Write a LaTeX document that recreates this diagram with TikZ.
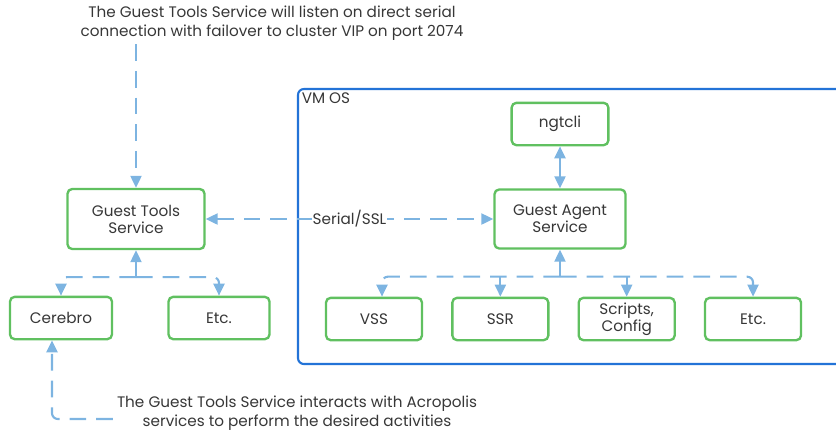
\documentclass[tikz,border=0pt]{standalone}
\usepackage{fontspec}
\setmainfont{Poppins}
\usepackage{tikz}
\usetikzlibrary{arrows.meta, positioning, calc}
\definecolor{boxgreen}{RGB}{96,192,96}
\definecolor{flowblue}{RGB}{125,180,225}
\definecolor{vmblue}{RGB}{35,115,215}
\definecolor{textgray}{RGB}{55,55,55}
\tikzset{
  svcbox/.style={rectangle,rounded corners=4pt,draw=boxgreen,line width=2pt,align=center,fill=white,text=textgray,font=\fontsize{13}{14.5}\selectfont},
  smallbox/.style={svcbox,minimum width=2.88cm,minimum height=1.27cm},
  vmbox/.style={rectangle,rounded corners=5pt,draw=vmblue,line width=1.8pt},
  note/.style={align=center,text=textgray,font=\fontsize{13}{16}\selectfont},
  flowarr/.style={-{Triangle[length=0.36cm,width=0.33cm]},line width=1.8pt,color=flowblue,dash pattern=on 0.5cm off 0.3cm},
  dflowarr/.style={flowarr,{Triangle[length=0.36cm,width=0.33cm]}-{Triangle[length=0.36cm,width=0.33cm]}}
}

\begin{document}
\begin{tikzpicture}[x=0.03cm,y=-0.03cm,node distance=0.84cm]
  \useasboundingbox (0,0) rectangle (836,434);

  %% VM OS frame, running off the right edge
  \coordinate (vmfar) at (900,364);
  \draw[vmbox,rounded corners=5pt] (298,89) rectangle (vmfar);
  \node[note,anchor=north west,inner sep=3pt] (vmlabel) at (298,89) {VM OS};

  %% Guest Tools side
  \node[svcbox,minimum width=4.11cm,minimum height=1.8cm] (gts) at (136,219) {Guest Tools\\Service};
  \node[smallbox,minimum width=3.06cm] (cerebro) at (61,318) {Cerebro};
  \node[smallbox,minimum width=3.03cm] (etcl) at (219,318) {Etc.};

  %% Guest Agent side
  \node[svcbox,minimum width=3.93cm,minimum height=1.77cm] (gas) at (560,219) {Guest Agent\\Service};
  \node[smallbox,minimum width=2.9cm] (ngtcli) at (560,124) {ngtcli};
  \node[smallbox] (vss) at (374,319) {VSS};
  \node[smallbox,right=of vss] (ssr) {SSR};
  \node[smallbox,right=of ssr] (scripts) {Scripts,\\Config};
  \node[smallbox,right=of scripts] (etcr) {Etc.};

  %% Notes
  \node[note] (topnote) at (272,23) {The Guest Tools Service will listen on direct serial\\connection with failover to cluster VIP on port 2074};
  \node[note] (botnote) at (297,413) {The Guest Tools Service interacts with Acropolis\\services to perform the desired activities};

  %% Connectors
  \coordinate (gtsjoin) at ([yshift=-0.81cm]gts.south);
  \coordinate (gasjoin) at ([yshift=-0.81cm]gas.south);

  \draw[flowarr] (topnote.south -| gts.north) -- (gts.north);
  \draw[dflowarr] (gts.east) -- node[note,fill=white,inner sep=1pt]{Serial/SSL} (gas.west);
  \draw[dflowarr,solid] (ngtcli.south) -- (gas.north);

  \draw[flowarr] (gtsjoin) -- (gts.south);
  \draw[flowarr,rounded corners=5pt] (gtsjoin) -| (cerebro.north);
  \draw[flowarr,rounded corners=5pt] (gtsjoin) -| (etcl.north);

  \draw[flowarr] (gasjoin) -- (gas.south);
  \draw[flowarr,rounded corners=5pt] (gasjoin) -| ([xshift=0.24cm]vss.north);
  \draw[flowarr,rounded corners=5pt] (gasjoin) -| (etcr.north);
  \foreach \b in {ssr,scripts}
    \draw[flowarr] (gasjoin -| \b.north) -- (\b.north);

  \draw[flowarr,rounded corners=5pt] ([yshift=-0.18cm]botnote.west) -| ([xshift=-0.27cm]cerebro.south);
\end{tikzpicture}
\end{document}
